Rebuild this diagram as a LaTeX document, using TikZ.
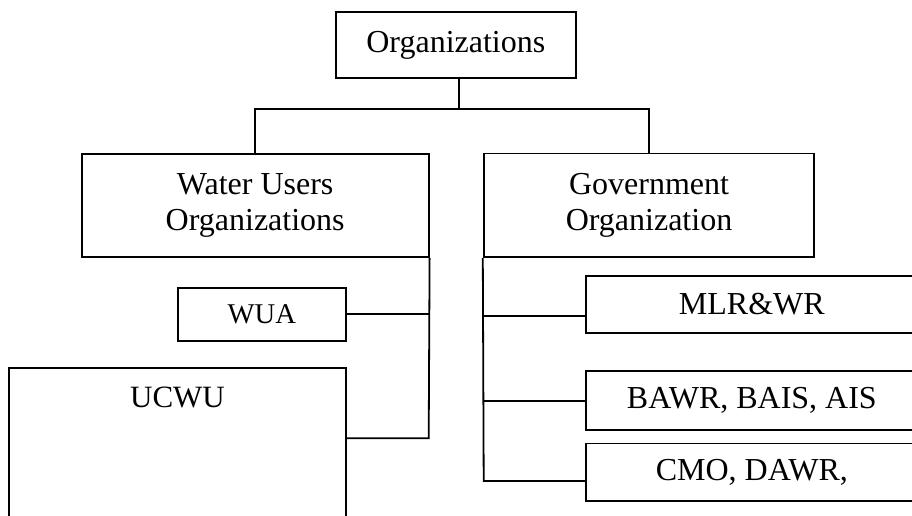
\documentclass[tikz,border=0pt]{standalone}
\usepackage{fontspec}
\setmainfont{Liberation Serif}
\begin{document}
\begin{tikzpicture}[x=1pt,y=-1pt,
  box/.style={draw=black, line width=1.8pt, rectangle, inner sep=0pt,
    align=center, font=\fontsize{32}{36}\selectfont},
  conn/.style={draw=black, line width=1.8pt}]
  \useasboundingbox (0,0) rectangle (912,516);
  \fill[white] (0,0) rectangle (912,516);
  \clip (0,0) rectangle (912,516);

  % top level
  \node[box, minimum width=240.3pt, minimum height=66.6pt] (org) at (455.85,45) {Organizations};

  % second level
  \node[box, minimum width=347pt, minimum height=103.3pt] (wuo) at (255.2,205.65)
    {Water Users\\Organizations};
  \node[box, minimum width=330.6pt, minimum height=103.8pt] (gov) at (649,205.4)
    {Government\\Organization};

  % water users branch
  \node[box, minimum width=168.3pt, minimum height=53.3pt,
        font=\fontsize{28.6}{32}\selectfont] (wua) at (261.85,314.35) {WUA};
  \node[box, anchor=north, minimum width=336.4pt, inner ysep=19.3pt,
        text height=20.5pt, text depth=200pt,
        font=\fontsize{31}{36}\selectfont] (ucwu) at (177.5,366.7) {UCWU};

  % government branch
  \node[box, minimum width=332.3pt, minimum height=57pt] (mlr) at (751.85,304.2) {MLR\&WR};
  \node[box, minimum width=332.3pt, minimum height=59pt] (bawr) at (751.85,400.5) {BAWR, BAIS, AIS};
  \node[box, minimum width=332.3pt, minimum height=57.3pt] (cmo) at (751.85,472.15) {CMO, DAWR,};

  % junction points
  \coordinate (hub) at (459,109.3);
  \coordinate (lspine) at (428.7,438.3);
  \coordinate (rspine) at (483.7,481);
  \coordinate (rm) at (483.7,316);
  \coordinate (rb) at (483.7,400.7);

  % connectors
  \draw[conn] (org.south -| hub) -- (hub);
  \draw[conn] (wuo.north) |- (hub) -| (gov.north);

  \draw[conn] (wuo.south east) -- (lspine) -- (lspine -| ucwu.east);
  \draw[conn] (wua.east) -- (wua.east -| lspine);

  \draw[conn] (gov.south west) -- (rspine) -- (rspine -| cmo.west);
  \draw[conn] (rm) -- (rm -| mlr.west);
  \draw[conn] (rb) -- (rb -| bawr.west);
\end{tikzpicture}
\end{document}
